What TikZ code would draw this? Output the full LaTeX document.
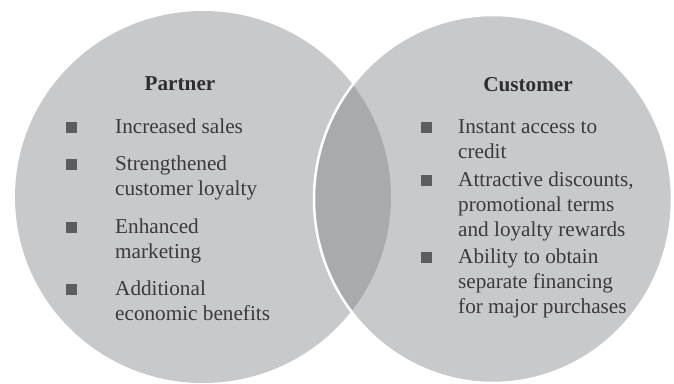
\documentclass[tikz,border=0pt]{standalone}
\usepackage{fontspec}
\setmainfont{Liberation Serif}
\usetikzlibrary{positioning}
\definecolor{circgray}{HTML}{C8C9CB}
\definecolor{lensgray}{HTML}{A9AAAC}
\definecolor{bulgray}{HTML}{5C5D5F}
\definecolor{txtgray}{HTML}{3A3A3C}
\newcommand{\itemlines}[1]{\begin{tabular}[t]{@{}l@{}}#1\end{tabular}}

\begin{document}
\begin{tikzpicture}[x=1pt,y=-1pt,
	item/.style={anchor=base west,inner sep=0pt,text=txtgray,font=\fontsize{21.2}{25.2}\selectfont},
	head/.style={anchor=base,inner sep=0pt,text=txtgray!80!black,font=\fontsize{21.2}{25.2}\selectfont\bfseries},
	bul/.style={fill=bulgray,minimum size=11pt,inner sep=0pt}]
			
			\useasboundingbox (0,0) rectangle (674,383);
			
			% the two sets
			\fill[circgray] (203,197) ellipse [x radius=188pt, y radius=186pt];
			\fill[circgray] (493,199) ellipse [x radius=179pt, y radius=184pt];
			\begin{scope}
				\clip (203,197) ellipse [x radius=188pt, y radius=186pt];
				\fill[lensgray] (493,199) ellipse [x radius=179pt, y radius=184pt];
			\end{scope}
			\draw[white,line width=2.5pt] (493,199) ellipse [x radius=179pt, y radius=184pt];
			
			% partner side
			\node[head] (pt) at (180,90) {Partner};
			\node[item] (p1) at (115,133) {\itemlines{Increased sales}};
			\node[item] (p2) at (115,170) {\itemlines{Strengthened\\customer loyalty}};
			\node[item] (p3) at (115,233) {\itemlines{Enhanced\\marketing}};
			\node[item] (p4) at (115,295) {\itemlines{Additional\\economic benefits}};
			\node[bul,left=38pt of p1.base west,yshift=6pt] (bp1) {};
			\node[bul,left=38pt of p2.base west,yshift=6pt] (bp2) {};
			\node[bul,left=38pt of p3.base west,yshift=6pt] (bp3) {};
			\node[bul,left=38pt of p4.base west,yshift=6pt] (bp4) {};
			
			% customer side
			\node[head] (ct) at (528,91) {Customer};
			\node[item] (c1) at (458,133) {\itemlines{Instant access to\\credit}};
			\node[item] (c2) at (458,186) {\itemlines{Attractive discounts,\\promotional terms\\and loyalty rewards}};
			\node[item] (c3) at (458,263) {\itemlines{Ability to obtain\\separate financing\\for major purchases}};
			\node[bul,left=26pt of c1.base west,yshift=6pt] (bc1) {};
			\node[bul,left=26pt of c2.base west,yshift=6pt] (bc2) {};
			\node[bul,left=26pt of c3.base west,yshift=6pt] (bc3) {};
			
\end{tikzpicture}
\end{document}
